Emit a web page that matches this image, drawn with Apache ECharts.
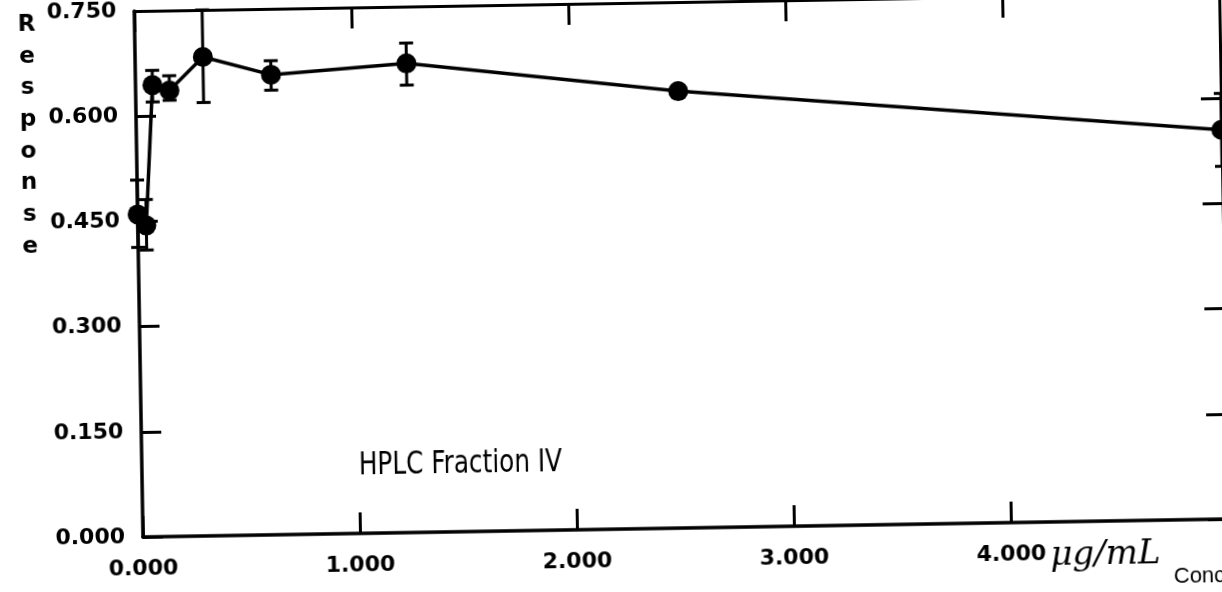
<!DOCTYPE html>
<html>
<head>
<meta charset="utf-8">
<script src="https://cdn.jsdelivr.net/npm/echarts@6/dist/echarts.min.js"></script>
<style>
  html, body { margin: 0; padding: 0; background: #fff; overflow: hidden; width: 1222px; height: 592px; }
  #chart { position: absolute; left: 0; top: 0; width: 1240px; height: 620px;
           transform: rotate(-0.95deg); transform-origin: 143px 537px; }
</style>
</head>
<body>
<div id="chart"></div>
<script>
// Concentration (µg/mL) – two-fold dilution series
const conc = [0, 0.039, 0.078, 0.156, 0.3125, 0.625, 1.25, 2.5, 5.0];
// Mean response
const response = [0.460, 0.444, 0.644, 0.636, 0.683, 0.656, 0.669, 0.623, 0.555];
// Error bar limits (null = no visible bar)
const errLow  = [0.413, 0.409, 0.620, 0.622, 0.618, 0.634, 0.638, null, 0.503];
const errHigh = [0.509, 0.481, 0.665, 0.657, 0.750, 0.676, 0.698, null, 0.607];

const lineData = conc.map((c, i) => [c, response[i]]);
const errData = [];
conc.forEach((c, i) => { if (errLow[i] !== null) errData.push([c, errLow[i], errHigh[i]]); });

const chart = echarts.init(document.getElementById('chart'), null, { renderer: 'canvas' });
const labelFont = { color: '#000', fontFamily: 'DejaVu Sans', fontWeight: 'bold', fontSize: 22 };

chart.setOption({
  backgroundColor: '#fff',
  animation: false,
  grid: { left: 143, top: 6, right: 12, bottom: 83, containLabel: false },
  xAxis: [
    {
      type: 'value', position: 'bottom', min: 0, max: 5, interval: 1,
      axisLine: { show: true, onZero: false, lineStyle: { color: '#000', width: 3.5 } },
      axisTick: { show: true, inside: true, length: 21, lineStyle: { color: '#000', width: 3 } },
      axisLabel: Object.assign({ margin: 21, showMaxLabel: false, formatter: v => v.toFixed(3) }, labelFont),
      splitLine: { show: false }
    },
    {
      type: 'value', position: 'top', min: 0, max: 5, interval: 1,
      axisLine: { show: true, onZero: false, lineStyle: { color: '#000', width: 3 } },
      axisTick: { show: true, inside: true, length: 21, lineStyle: { color: '#000', width: 3 } },
      axisLabel: { show: false },
      splitLine: { show: false }
    }
  ],
  yAxis: [
    {
      type: 'value', position: 'left', min: 0, max: 0.75, interval: 0.15,
      axisLine: { show: true, onZero: false, lineStyle: { color: '#000', width: 3.5 } },
      axisTick: { show: true, inside: true, length: 20, lineStyle: { color: '#000', width: 3 } },
      axisLabel: Object.assign({ margin: 18, formatter: v => v.toFixed(3) }, labelFont),
      splitLine: { show: false }
    },
    {
      type: 'value', position: 'right', min: 0, max: 0.75, interval: 0.15,
      axisLine: { show: true, onZero: false, lineStyle: { color: '#000', width: 3 } },
      axisTick: { show: true, inside: true, length: 20, lineStyle: { color: '#000', width: 3 } },
      axisLabel: { show: false },
      splitLine: { show: false }
    }
  ],
  series: [
    {
      type: 'custom',
      xAxisIndex: 0, yAxisIndex: 0,
      data: errData,
      clip: false,
      z: 2,
      renderItem: function (params, api) {
        const lo = api.coord([api.value(0), api.value(1)]);
        const hi = api.coord([api.value(0), api.value(2)]);
        const hw = 7;
        const st = { stroke: '#000', lineWidth: 3 };
        return {
          type: 'group',
          children: [
            { type: 'line', shape: { x1: lo[0], y1: lo[1], x2: hi[0], y2: hi[1] }, style: st },
            { type: 'line', shape: { x1: lo[0] - hw, y1: lo[1], x2: lo[0] + hw, y2: lo[1] }, style: st },
            { type: 'line', shape: { x1: hi[0] - hw, y1: hi[1], x2: hi[0] + hw, y2: hi[1] }, style: st }
          ]
        };
      }
    },
    {
      type: 'line',
      xAxisIndex: 0, yAxisIndex: 0,
      data: lineData,
      symbol: 'circle',
      symbolSize: 20,
      clip: false,
      z: 3,
      itemStyle: { color: '#000' },
      lineStyle: { color: '#000', width: 3.5 }
    }
  ],
  graphic: [
    {
      type: 'text', x: 35, y: 7, silent: true,
      style: {
        text: 'R\ne\ns\np\no\nn\ns\ne', align: 'center', verticalAlign: 'top',
        font: 'bold 23px "DejaVu Sans"', fill: '#000', lineHeight: 31.7
      }
    },
    {
      type: 'text', x: 360, y: 470, scaleX: 0.86, silent: true,
      style: {
        text: 'HPLC Fraction IV', align: 'left', verticalAlign: 'middle',
        font: '32px "Liberation Sans Narrow", "DejaVu Sans Condensed", sans-serif', fill: '#000'
      }
    },
    {
      type: 'text', x: 1050, y: 571, silent: true,
      style: {
        text: 'μg/mL', align: 'left', verticalAlign: 'middle',
        font: 'italic 34px "DejaVu Serif", serif', fill: '#000'
      }
    },
    {
      type: 'text', x: 1173, y: 594, silent: true,
      style: {
        text: 'Conc', align: 'left', verticalAlign: 'middle',
        font: '22px "Liberation Sans", Arial, sans-serif', fill: '#000'
      }
    }
  ]
});
</script>
</body>
</html>
